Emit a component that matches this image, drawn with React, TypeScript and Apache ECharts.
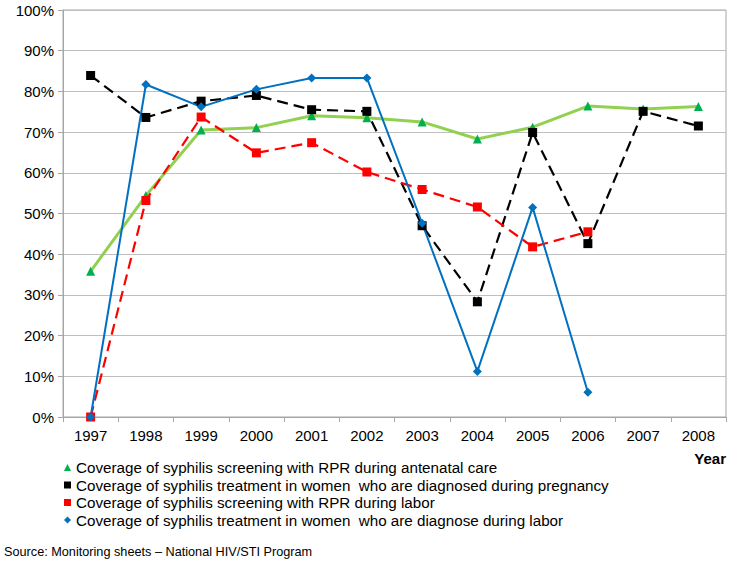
import React, { useEffect, useRef } from "react";
import * as echarts from "echarts";

const years = ["1997", "1998", "1999", "2000", "2001", "2002", "2003", "2004", "2005", "2006", "2007", "2008"];
const screeningAntenatal = [35.8, 54.4, 70.5, 71.1, 74.0, 73.5, 72.5, 68.3, 71.2, 76.4, 75.7, 76.3];
const treatmentPregnancy = [83.9, 73.6, 77.6, 79.0, 75.5, 75.1, 47.0, 28.3, 69.9, 42.6, 75.1, 71.5];
const screeningLabor = [0, 53.2, 73.7, 64.9, 67.4, 60.2, 55.9, 51.6, 41.8, 45.5, null, null];
const treatmentLabor = [0, 81.7, 76.2, 80.5, 83.3, 83.3, 47.6, 11.2, 51.5, 6.1, null, null];

const seriesNames = [
  "Coverage of syphilis screening with RPR during antenatal care",
  "Coverage of syphilis treatment in women  who are diagnosed during pregnancy",
  "Coverage of syphilis screening with RPR during labor",
  "Coverage of syphilis treatment in women  who are diagnose during labor",
];

const FONT = "'Liberation Sans', Arial, sans-serif";

export default function App() {
  const ref = useRef<HTMLDivElement>(null);
  useEffect(() => {
    if (!ref.current) return;
    const chart = echarts.init(ref.current, undefined, { renderer: "svg" });
    chart.setOption({
      animation: false,
      backgroundColor: "#ffffff",
      textStyle: { fontFamily: FONT },
      grid: {
        left: 63,
        right: 4,
        top: 10,
        bottom: 147,
        show: true,
        borderColor: "#A6A6A6",
        borderWidth: 1,
      },
      legend: {
        orient: "vertical",
        left: 64,
        top: 460,
        itemWidth: 7,
        itemHeight: 7,
        itemGap: 2.5,
        padding: 0,
        selectedMode: false,
        textStyle: { fontSize: 15.2, color: "#000", fontFamily: FONT, lineHeight: 15, padding: [0, 0, 0, 0] },
        data: [
          { name: seriesNames[0], icon: "triangle", itemStyle: { color: "#00B050" } },
          { name: seriesNames[1], icon: "rect", itemStyle: { color: "#000000" } },
          { name: seriesNames[2], icon: "rect", itemStyle: { color: "#FF0000" } },
          { name: seriesNames[3], icon: "diamond", itemStyle: { color: "#0070C0" } },
        ],
      },
      xAxis: {
        type: "category",
        data: years,
        boundaryGap: true,
        axisLine: { lineStyle: { color: "#A6A6A6", width: 1 } },
        axisTick: { show: true, length: 5, lineStyle: { color: "#A6A6A6" } },
        axisLabel: { fontSize: 15, color: "#000", margin: 11, fontFamily: FONT },
        splitLine: { show: false },
      },
      yAxis: {
        type: "value",
        min: 0,
        max: 100,
        interval: 10,
        axisLine: { show: true, lineStyle: { color: "#A6A6A6", width: 1 } },
        axisTick: { show: true, length: 5, lineStyle: { color: "#A6A6A6" } },
        axisLabel: { fontSize: 15, color: "#000", margin: 9, formatter: "{value}%", fontFamily: FONT },
        splitLine: { show: true, lineStyle: { color: "#BFBFBF", width: 1 } },
      },
      graphic: [
        {
          type: "text",
          right: 4,
          top: 451,
          style: { text: "Year", fontSize: 15, fontWeight: "bold", fill: "#000", fontFamily: FONT },
        },
        {
          type: "text",
          left: 4,
          top: 545,
          style: {
            text: "Source: Monitoring sheets \u2013 National HIV/STI Program",
            fontSize: 12.7,
            fill: "#000",
            fontFamily: FONT,
          },
        },
      ],
      series: [
        {
          name: seriesNames[0],
          type: "line",
          data: screeningAntenatal,
          symbol: "triangle",
          symbolSize: 9,
          lineStyle: { color: "#92D050", width: 3 },
          itemStyle: { color: "#00B050" },
        },
        {
          name: seriesNames[1],
          type: "line",
          data: treatmentPregnancy,
          symbol: "rect",
          symbolSize: 9,
          lineStyle: { color: "#000000", width: 2.2, type: [11, 6] },
          itemStyle: { color: "#000000" },
        },
        {
          name: seriesNames[2],
          type: "line",
          data: screeningLabor,
          symbol: "rect",
          symbolSize: 9,
          lineStyle: { color: "#FF0000", width: 2.2, type: [11, 6] },
          itemStyle: { color: "#FF0000" },
        },
        {
          name: seriesNames[3],
          type: "line",
          data: treatmentLabor,
          symbol: "diamond",
          symbolSize: 9,
          lineStyle: { color: "#0070C0", width: 2 },
          itemStyle: { color: "#0070C0" },
        },
      ],
    });
    return () => chart.dispose();
  }, []);
  return <div ref={ref} style={{ width: 730, height: 564, position: "absolute", left: 0, top: 0 }} />;
}
